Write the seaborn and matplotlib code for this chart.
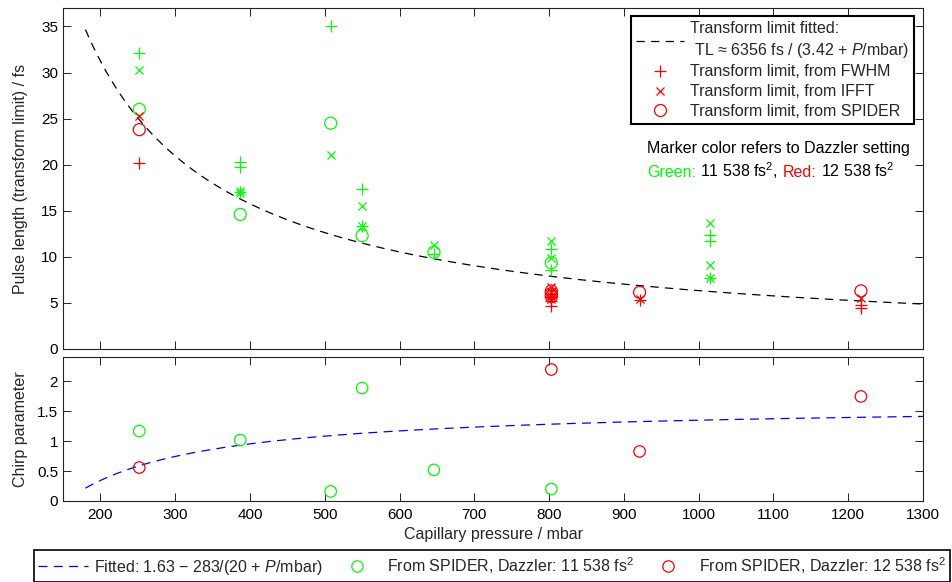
import numpy as np
import matplotlib
matplotlib.use("Agg")
import matplotlib.pyplot as plt
from matplotlib.lines import Line2D
from matplotlib.ticker import FuncFormatter
import seaborn as sns

# ---------------- data ----------------
# Transform limit, green Dazzler setting (11 538 fs^2)
g_fwhm_p = [252, 387, 387, 387, 508, 550, 550, 646, 803, 803, 1015, 1015, 1015]
g_fwhm_v = [32.1, 20.3, 19.8, 17.0, 35.1, 17.4, 13.4, 10.3, 10.8, 8.6, 12.35, 11.75, 7.7]
g_ifft_p = [252, 387, 387, 508, 550, 550, 646, 803, 803, 1015, 1015, 1015]
g_ifft_v = [30.3, 17.1, 16.9, 21.1, 15.5, 13.4, 11.3, 11.7, 9.9, 13.7, 9.1, 7.75]
g_spider_p = [252, 387, 508, 550, 646, 803]
g_spider_v = [26.0, 14.6, 24.5, 12.3, 10.5, 9.35]
# Transform limit, red Dazzler setting (12 538 fs^2)
r_fwhm_p = [252, 803, 803, 803, 803, 921, 1217, 1217]
r_fwhm_v = [20.2, 6.0, 5.6, 5.2, 4.7, 5.35, 4.8, 4.5]
r_ifft_p = [252, 803, 803, 803, 803, 921, 1217]
r_ifft_v = [25.3, 6.7, 6.2, 5.8, 5.4, 5.4, 5.5]
r_spider_p = [252, 803, 803, 803, 921, 1217]
r_spider_v = [23.8, 6.3, 6.0, 5.7, 6.15, 6.3]
# Chirp parameter from SPIDER
g_chirp_p = [252, 387, 508, 550, 646, 803]
g_chirp_v = [1.17, 1.02, 0.16, 1.89, 0.52, 0.20]
r_chirp_p = [252, 803, 921, 1217]
r_chirp_v = [0.56, 2.20, 0.83, 1.75]
# Fit parameters (as given in the legends)
TL_A, TL_B = 6356.0, 3.42
CH_A, CH_B, CH_C = 1.63, 283.0, 20.0
fit_range = (180, 1300)

x_ticks = [200, 300, 400, 500, 600, 700, 800, 900, 1000, 1100, 1200, 1300]
y1_ticks = [0, 5, 10, 15, 20, 25, 30, 35]
y2_ticks = [0, 0.5, 1, 1.5, 2]

GREEN = "#00ff00"
RED = "#ff0000"
BLUE = "#0000ff"

# ---------------- style ----------------
sns.set_theme(style="ticks")
plt.rcParams["font.family"] = ["Liberation Sans", "DejaVu Sans"]
plt.rcParams.update({
    "font.size": 11,
    "mathtext.fontset": "custom",
    "mathtext.rm": "Liberation Sans",
    "mathtext.it": "Liberation Sans:italic",
    "xtick.direction": "in", "ytick.direction": "in",
    "xtick.top": True, "ytick.right": True,
    "xtick.major.size": 6, "ytick.major.size": 6,
    "xtick.major.width": 0.7, "ytick.major.width": 0.7,
    "xtick.color": "#222222", "ytick.color": "#222222",
    "xtick.labelcolor": "black", "ytick.labelcolor": "black",
    "xtick.labelsize": 11, "ytick.labelsize": 11,
    "axes.labelsize": 11.5,
    "axes.edgecolor": "#222222", "axes.linewidth": 0.8,
    "lines.scale_dashes": False,
})

W, H = 952, 582
fig = plt.figure(figsize=(W / 100, H / 100), dpi=100)
L, R = 63, 923
ax1 = fig.add_axes([L / W, 1 - 349 / H, (R - L) / W, (349 - 8) / H])
ax2 = fig.add_axes([L / W, 1 - 501 / H, (R - L) / W, (501 - 357) / H])

MS_PLUS, MS_X, MS_O = 75, 34, 75
LW_M = 0.9
FS_IN = 11.5

def pts(ax, x, y, marker, color, s, hollow=False):
    if hollow:
        sns.scatterplot(x=x, y=y, ax=ax, marker=marker, s=s, facecolor="none",
                        edgecolor=color, linewidth=LW_M, zorder=3)
    else:
        sns.scatterplot(x=x, y=y, ax=ax, marker=marker, s=s, facecolor=color,
                        edgecolor=color, linewidth=LW_M, zorder=3)

DASH_TOP = (6, 4.5)
DASH_BOT = (6.5, 4.5)

# ---- top panel ----
p_fit = np.linspace(fit_range[0], fit_range[1], 400)
sns.lineplot(x=p_fit, y=TL_A / (TL_B + p_fit), ax=ax1, color="black",
             linewidth=0.9, zorder=2)
ax1.lines[-1].set_dashes(DASH_TOP)

pts(ax1, g_fwhm_p, g_fwhm_v, "+", GREEN, MS_PLUS)
pts(ax1, g_ifft_p, g_ifft_v, "x", GREEN, MS_X)
pts(ax1, g_spider_p, g_spider_v, "o", GREEN, MS_O, hollow=True)
pts(ax1, r_fwhm_p, r_fwhm_v, "+", RED, MS_PLUS)
pts(ax1, r_ifft_p, r_ifft_v, "x", RED, MS_X)
pts(ax1, r_spider_p, r_spider_v, "o", RED, MS_O, hollow=True)

ax1.set_xlim(150, 1300)
ax1.set_ylim(0, 37)
ax1.set_xticks(x_ticks)
ax1.set_xticklabels([])
ax1.set_yticks(y1_ticks)
ax1.tick_params(axis="x", pad=5)
ax1.tick_params(axis="y", pad=3.5)
ax1.set_xlabel("")
ax1.set_ylabel("Pulse length (transform limit) / fs")
ax1.yaxis.set_label_coords((28 - L) / (R - L), 0.5)

h_fit = Line2D([], [], color="black", lw=0.9, dashes=DASH_TOP)
h_p = Line2D([], [], color=RED, marker="+", ls="none", ms=8.6, mew=LW_M)
h_x = Line2D([], [], color=RED, marker="x", ls="none", ms=5.8, mew=LW_M)
h_o = Line2D([], [], color=RED, marker="o", ls="none", ms=8.6, mew=LW_M, mfc="none")
leg1 = ax1.legend([h_fit, h_p, h_x, h_o],
                  ["Transform limit fitted:\n TL \u2248 6356 fs / (3.42 + $P$/mbar)",
                   "Transform limit, from FWHM",
                   "Transform limit, from IFFT",
                   "Transform limit, from SPIDER"],
                  loc="upper right", bbox_to_anchor=(914 / W, 1 - 16 / H),
                  bbox_transform=fig.transFigure, borderaxespad=0,
                  frameon=True, fancybox=False, edgecolor="black",
                  framealpha=1, handlelength=3.0, handletextpad=0.4,
                  labelspacing=0.3, borderpad=0.3, fontsize=FS_IN)
leg1.get_texts()[0].set_linespacing(1.35)
leg1.get_frame().set_linewidth(1.5)

# annotation text
fig.text(647 / W, 1 - 148 / H, "Marker color refers to Dazzler setting",
         ha="left", va="center", fontsize=FS_IN, color="black")
pieces = [("Green:", GREEN), ("11 538 fs$^2$,", "black"),
          ("Red:", RED), ("12 538 fs$^2$", "black")]
fig.canvas.draw()
renderer = fig.canvas.get_renderer()
xpix = 647
space_px = 4.5
for txt, col in pieces:
    t = fig.text(xpix / W, 1 - 177 / H, txt, ha="left", va="baseline",
                 fontsize=FS_IN, color=col)
    bb = t.get_window_extent(renderer=renderer)
    xpix += bb.width + space_px

# ---- bottom panel ----
sns.lineplot(x=p_fit, y=CH_A - CH_B / (CH_C + p_fit), ax=ax2, color=BLUE,
             linewidth=0.9, zorder=2)
ax2.lines[-1].set_dashes(DASH_BOT)
pts(ax2, g_chirp_p, g_chirp_v, "o", GREEN, 68, hollow=True)
pts(ax2, r_chirp_p, r_chirp_v, "o", RED, 68, hollow=True)

ax2.set_xlim(150, 1300)
ax2.set_ylim(0, 2.41)
ax2.set_xticks(x_ticks)
ax2.set_yticks(y2_ticks)
ax2.yaxis.set_major_formatter(FuncFormatter(lambda v, _: f"{v:g}"))
ax2.tick_params(axis="x", pad=5)
ax2.tick_params(axis="y", pad=3.5)
ax2.set_xlabel("Capillary pressure / mbar")
ax2.set_ylabel("Chirp parameter")
ax2.yaxis.set_label_coords((28 - L) / (R - L), 0.5)
ax2.xaxis.set_label_coords(0.5, -(527 - 501) / (501 - 357))

hb_fit = Line2D([], [], color=BLUE, lw=0.9, dashes=DASH_BOT)
hb_g = Line2D([], [], color=GREEN, marker="o", ls="none", ms=8.2, mew=LW_M, mfc="none")
hb_r = Line2D([], [], color=RED, marker="o", ls="none", ms=8.2, mew=LW_M, mfc="none")
leg2 = fig.legend([hb_fit, hb_g, hb_r],
                  ["Fitted: 1.63 \u2212 283/(20 + $P$/mbar)",
                   "From SPIDER, Dazzler: 11 538 fs$^2$",
                   "From SPIDER, Dazzler: 12 538 fs$^2$"],
                  loc="center", bbox_to_anchor=(492 / W, 1 - 566 / H),
                  ncol=3, frameon=True, fancybox=False, edgecolor="black",
                  framealpha=1, handlelength=3.1, handletextpad=0.35,
                  columnspacing=0.6, borderpad=0.3, fontsize=FS_IN)
leg2.get_frame().set_linewidth(1.2)

fig.savefig("out.png", dpi=100)
